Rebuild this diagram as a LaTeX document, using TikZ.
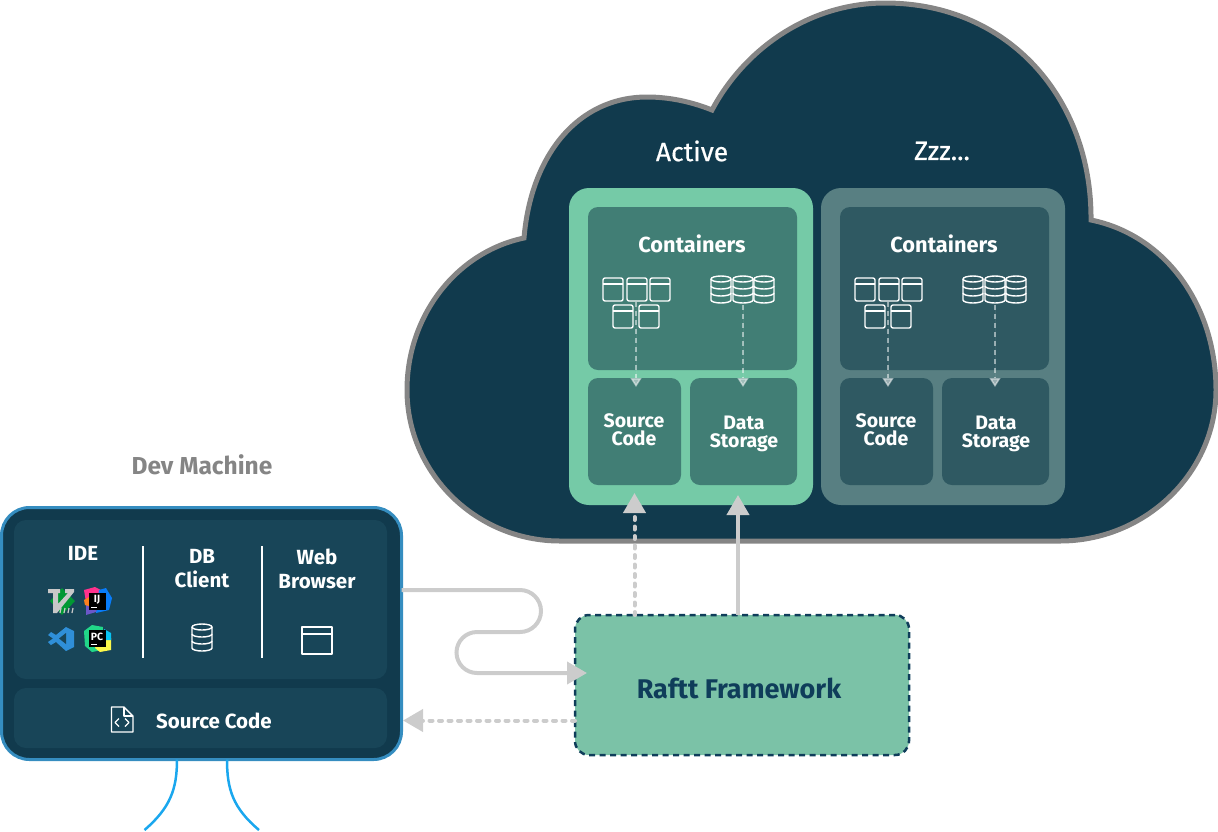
\documentclass[tikz,border=0pt]{standalone}
\usepackage{xcolor}
\usepackage{fontspec}
\setmainfont{Fira Sans}
\newfontfamily\titlefont[FakeBold=0.5]{Fira Sans}
\usepackage{tikz}
\usetikzlibrary{positioning,arrows.meta}

\definecolor{cloudfill}{HTML}{113A4D}
\definecolor{cloudline}{HTML}{858585}
\definecolor{actouter}{HTML}{75CAA7}
\definecolor{actinner}{HTML}{417E75}
\definecolor{zzzouter}{HTML}{587F82}
\definecolor{zzzinner}{HTML}{2F5962}
\definecolor{devfill}{HTML}{113A4D}
\definecolor{devinner}{HTML}{184558}
\definecolor{devline}{HTML}{358DC0}
\definecolor{flow}{HTML}{CCCCCC}
\definecolor{rafttfill}{HTML}{7BC2A7}
\definecolor{rafttline}{HTML}{0F3D5A}
\definecolor{wire}{HTML}{1AA7EE}
\definecolor{jbpink}{HTML}{FF318C}
\definecolor{jbblue}{HTML}{087CFA}
\definecolor{jbpurple}{HTML}{6B57C8}
\definecolor{jborange}{HTML}{FC801D}
\definecolor{jbgreen}{HTML}{21D789}
\definecolor{jbyellow}{HTML}{FCF84A}
\definecolor{jbcyan}{HTML}{07C3F2}
\definecolor{vimgreen}{HTML}{019833}
\definecolor{vimgray}{HTML}{C8C8C8}
\definecolor{codeblue}{HTML}{2F8FD8}

\tikzset{
    box/.style={rectangle,inner sep=0,outer sep=0,anchor=north west,rounded corners=10pt},
    word/.style={text=white,font=\bfseries\fontsize{19.5}{18}\selectfont,align=center,inner sep=0},
    devword/.style={word,font=\bfseries\fontsize{20.5}{24}\selectfont},
    ctrword/.style={word,font=\bfseries\fontsize{21.8}{21}\selectfont},
    titleword/.style={word,font=\titlefont\fontsize{26.5}{26}\selectfont},
    icon/.style={draw=white,line width=1.4pt,line join=round},
    bigflow/.style={draw=flow,line width=4pt,-{Triangle[width=22pt,length=20pt]}},
    dashflow/.style={bigflow,dash pattern=on 3pt off 6.5pt,line cap=round},
    smallflow/.style={draw=white,fill=white,opacity=.5,line width=1.5pt,dash pattern=on 5pt off 4pt,-{Triangle[width=11pt,length=9pt]}},
    jbtext/.style={text=white,font=\bfseries\fontsize{10.5}{10}\selectfont,inner sep=0},
    ctricon/.pic={
        \draw[icon,rounded corners=2pt] (0,0) -- (20,0) -- (20,23) -- (0,23) -- cycle;
        \draw[icon] (0,6) -- (20,6);
    },
    dbicon/.pic={
        \draw[icon] (0,3) -- (0,24) arc[x radius=10pt,y radius=3pt,start angle=180,end angle=360] -- (20,3);
        \draw[icon] (10,3) ellipse[x radius=10pt,y radius=3pt];
        \draw[icon] (0,10) arc[x radius=10pt,y radius=3pt,start angle=180,end angle=360];
        \draw[icon] (0,17) arc[x radius=10pt,y radius=3pt,start angle=180,end angle=360];
    },
}

\begin{document}
\begin{tikzpicture}[x=1pt,y=-1pt]
    \useasboundingbox (0,0) rectangle (1218,831);

    \draw[fill=cloudfill,draw=cloudline,line width=5pt,line join=miter]
        (560,541) .. controls (476,541) and (407,473) .. (407,390)
        .. controls (407,315) and (457,252) .. (524,238)
        .. controls (531,155) and (578,97) .. (647,97)
        .. controls (670,97) and (692,102) .. (712,110)
        .. controls (745,48) and (810,3) .. (885,3)
        .. controls (1010,3) and (1092,100) .. (1091,220)
        .. controls (1165,235) and (1216,305) .. (1216,390)
        .. controls (1216,473) and (1145,541) .. (1060,541)
        -- cycle;

    \node[titleword] (acttitle) at (692,151) {Active};
    \node[titleword] (zzztitle) at (942,151) {Zzz...};

    \node[box,fill=actouter,minimum width=244pt,minimum height=317pt,rounded corners=20pt] (act) at (569,188) {};
    \node[box,fill=actinner,minimum width=209pt,minimum height=163pt] (ctra) at (588,207) {};
    \node[box,fill=actinner,minimum width=93pt,minimum height=107pt] (srca) at (588,378) {};
    \node[box,fill=actinner,minimum width=107pt,minimum height=107pt] (dataa) at (690,378) {};
    \node[ctrword] (ctratext) at (692,244) {Containers};
    \node[word] (srcatext) at (634,430) {Source\\Code};
    \node[word] (dataatext) at (744,434) {Data\\Storage};

    \node[box,fill=zzzouter,minimum width=244pt,minimum height=317pt,rounded corners=20pt] (zzz) at (821,188) {};
    \node[box,fill=zzzinner,minimum width=209pt,minimum height=163pt] (ctrb) at (840,207) {};
    \node[box,fill=zzzinner,minimum width=93pt,minimum height=107pt] (srcb) at (840,378) {};
    \node[box,fill=zzzinner,minimum width=107pt,minimum height=107pt] (datab) at (942,378) {};
    \node[ctrword] (ctrbtext) at (944,244) {Containers};
    \node[word] (srcbtext) at (886,430) {Source\\Code};
    \node[word] (databtext) at (996,434) {Data\\Storage};

    \pic at (603,278) {ctricon};
    \pic at (627,278) {ctricon};
    \pic at (650,278) {ctricon};
    \pic at (613,305) {ctricon};
    \pic at (639,305) {ctricon};
    \pic at (711,276) {dbicon};
    \pic at (733,276) {dbicon};
    \pic at (754,276) {dbicon};

    \pic at (855,278) {ctricon};
    \pic at (879,278) {ctricon};
    \pic at (902,278) {ctricon};
    \pic at (865,305) {ctricon};
    \pic at (891,305) {ctricon};
    \pic at (963,276) {dbicon};
    \pic at (985,276) {dbicon};
    \pic at (1006,276) {dbicon};

    \coordinate (ctraout) at (636,302);
    \coordinate (dbaout) at (743,305);
    \coordinate (ctrbout) at (888,302);
    \coordinate (dbbout) at (995,305);
    \draw[smallflow] (ctraout) -- ([yshift=-9pt]srca.north -| ctraout);
    \draw[smallflow] (dbaout) -- ([yshift=-9pt]dataa.north -| dbaout);
    \draw[smallflow] (ctrbout) -- ([yshift=-9pt]srcb.north -| ctrbout);
    \draw[smallflow] (dbbout) -- ([yshift=-9pt]datab.north -| dbbout);

    \node[box,fill=rafttfill,draw=rafttline,line width=2.5pt,dash pattern=on 6pt off 4.5pt,minimum width=334pt,minimum height=140pt,rounded corners=14pt] (raftt) at (575,615) {};
    \node[word,text=rafttline,font=\bfseries\fontsize{27}{27}\selectfont] (raftttext) at (739,688) {Raftt Framework};

    \draw[dashflow] (raftt.north -| srca) -- ([yshift=12pt]act.south -| srca);
    \draw[bigflow] ([xshift=-4pt]raftt.north) -- ([xshift=-4pt,yshift=10pt]act.south -| raftt.north);

    \node[word,text=cloudline,font=\bfseries\fontsize{24.5}{24}\selectfont] (devtitle) at (202,465) {Dev Machine};
    \node[box,fill=devfill,draw=devline,line width=3pt,minimum width=400pt,minimum height=252pt,rounded corners=28pt] (dev) at (1.5,507.5) {};
    \node[box,fill=devinner,minimum width=373pt,minimum height=159pt,rounded corners=12pt] (devtop) at (14,520) {};
    \node[box,fill=devinner,minimum width=373pt,minimum height=60pt,rounded corners=12pt] (devsrc) at (14,688) {};
    \node[devword] (idetext) at (83,553) {IDE};
    \node[devword] (dbtext) at (202,569) {DB\\Client};
    \node[devword] (webtext) at (317,569) {Web\\Browser};
    \node[devword] (devsrctext) at (214,721) {Source Code};

    \coordinate (septopa) at (142.5,546);
    \coordinate (sepbota) at (142.5,658);
    \coordinate (septopb) at (261.5,546);
    \coordinate (sepbotb) at (261.5,658);
    \draw[white,line width=2pt] (septopa) -- (sepbota);
    \draw[white,line width=2pt] (septopb) -- (sepbotb);

    \pic at (192,624) {dbicon};
    \draw[icon] (302,627) rectangle (332,654);
    \draw[icon] (302,634) -- (332,634);
    \draw[icon] (111.5,707) -- (124,707) -- (133,716) -- (133,732) -- (111.5,732) -- cycle;
    \draw[icon] (124,707) -- (124,716) -- (133,716);
    \draw[icon,line width=1.3pt] (119,718.5) -- (115,722.5) -- (119,726.5);
    \draw[icon,line width=1.3pt] (125,718.5) -- (129,722.5) -- (125,726.5);

    \fill[vimgreen] (62,588) -- (75,601) -- (62,615) -- (50,601) -- cycle;
    \fill[vimgray] (48,589) -- (60,589) -- (60,593) -- (58,593) -- (58,604) -- (68,593) -- (65,593) -- (65,589) -- (74,589) -- (74,592) -- (57,613) -- (53,613) -- (53,593) -- (48,593) -- cycle;
    \draw[vimgray,line width=1.2pt] (60,613) -- (61,608) (64,613) -- (65,608) (68,613) -- (69,608) (72,613) -- (73,608);

    \fill[jbpink] (84,590) -- (95,587) -- (101,590) -- (100,602) -- (86,602) -- cycle;
    \fill[jbblue] (99,590) -- (106,588) -- (112,598) -- (109,610) -- (96,613) -- cycle;
    \fill[jbpurple] (86,600) -- (99,604) -- (96,612) -- (86,615) -- cycle;
    \fill[jborange] (84,600) -- (89,597) -- (89,606) -- (85,605) -- cycle;
    \node[box,fill=black,minimum width=17pt,minimum height=17pt,rounded corners=0pt] (ijsq) at (89,593) {};
    \node[jbtext] (ijtext) at (97,599.5) {IJ};
    \draw[white,line width=1pt] (91,607.5) -- (97,607.5);

    \fill[jbgreen] (84,631) -- (92,625) -- (103,627) -- (102,650) -- (92,652) -- (85,646) -- cycle;
    \fill[jbyellow] (95,648) -- (100,635) -- (111,638) -- (111,650) -- (100,652) -- cycle;
    \fill[jbcyan] (104,629) -- (111,633) -- (111,640) -- (104,640) -- cycle;
    \node[box,fill=black,minimum width=17pt,minimum height=17pt,rounded corners=0pt] (pcsq) at (89,630) {};
    \node[jbtext] (pctext) at (97,636.5) {PC};
    \draw[white,line width=1pt] (91,644.5) -- (97,644.5);

    \fill[codeblue] (66,627) -- (74,631) -- (74,647) -- (66,651) -- (56,642) -- (51,645) -- (48,642) -- (53,638.5) -- (48,635) -- (51,632) -- (56,635) -- cycle;
    \fill[devinner] (66,633) -- (59,638.5) -- (66,644) -- cycle;

    \coordinate (wireaend) at (144.5,830);
    \coordinate (wirebend) at (259,830);
    \draw[wire,line width=2.5pt] ([xshift=-24.5pt]dev.south) .. controls +(0,30) and (170,808) .. (wireaend);
    \draw[wire,line width=2.5pt] ([xshift=25.5pt]dev.south) .. controls +(0,30) and (233,808) .. (wirebend);

    \coordinate (wayin) at (587,673);
    \draw[bigflow] ([yshift=43.5pt]dev.east) -- (520,590) arc[start angle=90,end angle=-90,radius=21pt] -- (477,632) arc[start angle=90,end angle=270,radius=20.5pt] -- (wayin);
    \draw[dashflow] ([yshift=-35.5pt]raftt.west) -- ([yshift=-87pt,xshift=1.5pt]dev.east);
\end{tikzpicture}
\end{document}
